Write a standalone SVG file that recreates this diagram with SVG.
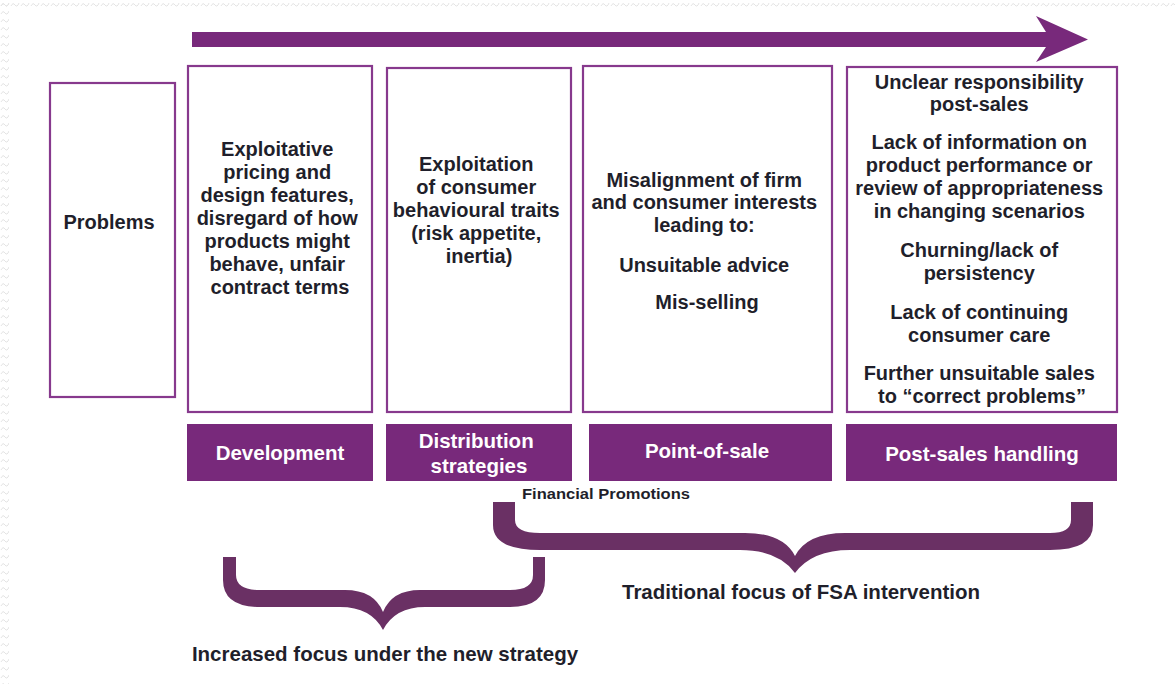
<svg xmlns="http://www.w3.org/2000/svg" width="1175" height="684" viewBox="0 0 1175 684">
  <defs>
    <style>
      .box { fill: #ffffff; stroke: #87398d; stroke-width: 2.2; }
      .bar { fill: #78297b; }
      .txt { font-family: "Liberation Sans", Arial, sans-serif; font-weight: bold; font-size: 20px; fill: #1f1f2b; text-anchor: middle; }
      .note { font-size: 20.5px; }
      .lbl { font-family: "Liberation Sans", Arial, sans-serif; font-weight: bold; font-size: 20.5px; fill: #ffffff; text-anchor: middle; }
      .brace { fill: #6a3064; }
      .arrow { fill: #78297b; }
    </style>
    <pattern id="wave" width="10" height="8" patternUnits="userSpaceOnUse">
      <path d="M1 6 Q3 2 5 5 Q7 8 9 3" fill="none" stroke="#e4e4e4" stroke-width="1"/>
    </pattern>
  </defs>

  <!-- page background with a faint textured margin -->
  <rect x="0" y="0" width="1175" height="684" fill="#ffffff"/>
  <rect x="0" y="0" width="1175" height="8" fill="url(#wave)"/>
  <rect x="0" y="0" width="9" height="684" fill="url(#wave)"/>

  <!-- timeline arrow and focus brackets -->
  <g id="connectors">
    <path class="arrow" d="M192 32 L1046 32 L1036 16 L1088 39.5 L1036 62 L1046 47 L192 47 Z"/>
    <path class="brace" d="M493 502 L515 502 L515 520 Q515 533 540 533 L745 533 Q783 533 795 556 Q807 533 845 533 L1050 533 Q1071 533 1071 520 L1071 502 L1093 502 L1093 525 Q1093 550 1050 550 L850 550 Q812 550 795 573 Q778 550 740 550 L540 550 Q493 550 493 525 Z"/>
    <path class="brace" d="M223 557 L236 557 L236 575 Q236 590 260 590 L345 590 Q374 590 383 612 Q392 590 420 590 L510 590 Q533 590 533 575 L533 557 L545 557 L545 580 Q545 607 510 607 L425 607 Q395 607 383 630 Q371 607 340 607 L260 607 Q223 607 223 580 Z"/>
  </g>

  <g id="problems">
    <rect class="box" x="50" y="83" width="125" height="314"/>
    <text class="txt" x="109" y="229">Problems</text>
  </g>

  <g id="development-problems">
    <rect class="box" x="188" y="66" width="184" height="346"/>
    <text class="txt">
      <tspan x="280" y="156">Exploitative</tspan>
      <tspan x="280" y="179">pricing and</tspan>
      <tspan x="280" y="202">design features,</tspan>
      <tspan x="280" y="225">disregard of how</tspan>
      <tspan x="280" y="248">products might</tspan>
      <tspan x="280" y="271">behave, unfair</tspan>
      <tspan x="280" y="294">contract terms</tspan>
    </text>
  </g>

  <g id="distribution-problems">
    <rect class="box" x="387" y="68" width="184" height="344"/>
    <text class="txt">
      <tspan x="479" y="171">Exploitation</tspan>
      <tspan x="479" y="194">of consumer</tspan>
      <tspan x="479" y="217">behavioural traits</tspan>
      <tspan x="479" y="240">(risk appetite,</tspan>
      <tspan x="479" y="263">inertia)</tspan>
    </text>
  </g>

  <g id="point-of-sale-problems">
    <rect class="box" x="583" y="66" width="249" height="346"/>
    <text class="txt">
      <tspan x="707" y="187">Misalignment of firm</tspan>
      <tspan x="707" y="209">and consumer interests</tspan>
      <tspan x="707" y="232">leading to:</tspan>
      <tspan x="707" y="272">Unsuitable advice</tspan>
      <tspan x="707" y="309">Mis-selling</tspan>
    </text>
  </g>

  <g id="post-sales-problems">
    <rect class="box" x="847" y="67" width="270" height="345"/>
    <text class="txt">
      <tspan x="982" y="89">Unclear responsibility</tspan>
      <tspan x="982" y="111">post-sales</tspan>
      <tspan x="982" y="149">Lack of information on</tspan>
      <tspan x="982" y="172">product performance or</tspan>
      <tspan x="982" y="195">review of appropriateness</tspan>
      <tspan x="982" y="218">in changing scenarios</tspan>
      <tspan x="982" y="257">Churning/lack of</tspan>
      <tspan x="982" y="280">persistency</tspan>
      <tspan x="982" y="319">Lack of continuing</tspan>
      <tspan x="982" y="342">consumer care</tspan>
      <tspan x="982" y="380">Further unsuitable sales</tspan>
      <tspan x="982" y="403">to “correct problems”</tspan>
    </text>
  </g>

  <g id="stage-development">
    <rect class="bar" x="187" y="424" width="186" height="57"/>
    <text class="lbl" x="280" y="460">Development</text>
  </g>

  <g id="stage-distribution">
    <rect class="bar" x="386" y="424" width="186" height="57"/>
    <text class="lbl">
      <tspan x="479" y="448">Distribution</tspan>
      <tspan x="479" y="473">strategies</tspan>
    </text>
  </g>

  <g id="stage-point-of-sale">
    <rect class="bar" x="589" y="424" width="243" height="57"/>
    <text class="lbl" x="707" y="458">Point-of-sale</text>
  </g>

  <g id="stage-post-sales">
    <rect class="bar" x="846" y="424" width="271" height="57"/>
    <text class="lbl" x="982" y="461">Post-sales handling</text>
  </g>

  <g id="annotations">
    <text class="txt" x="606" y="499" style="font-size:14px" textLength="168" lengthAdjust="spacingAndGlyphs">Financial Promotions</text>
    <text class="txt note" x="801" y="599">Traditional focus of FSA intervention</text>
    <text class="txt note" x="385" y="661">Increased focus under the new strategy</text>
  </g>
</svg>
